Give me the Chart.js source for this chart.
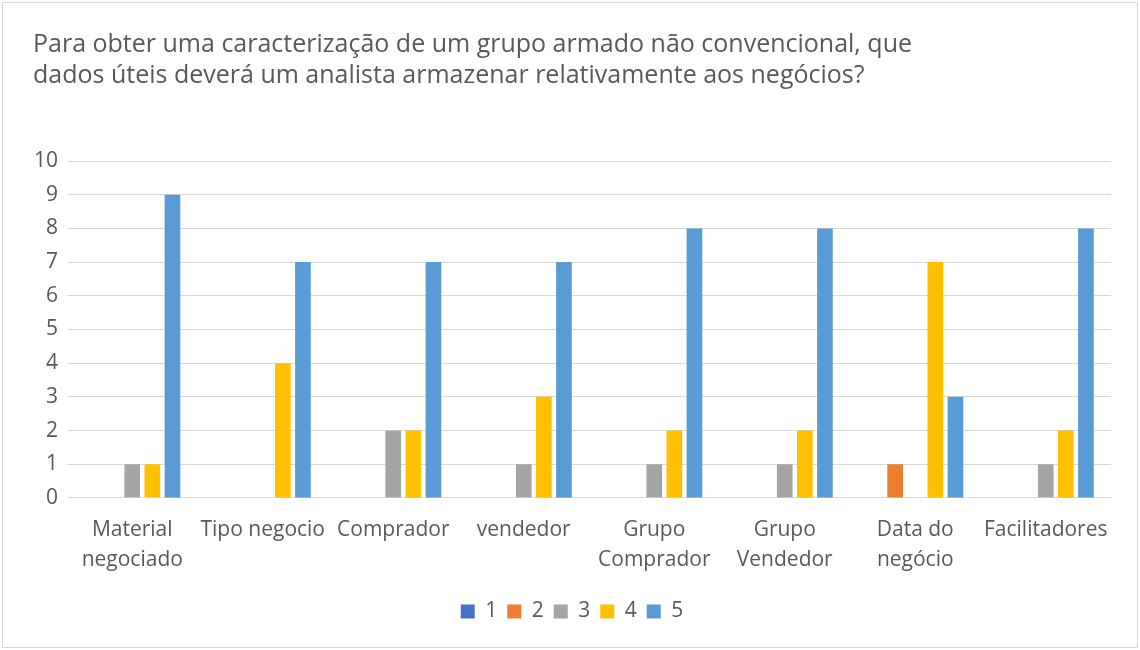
<!DOCTYPE html>
<html>
<head>
<meta charset="utf-8">
<script src="https://cdn.jsdelivr.net/npm/chart.js@4.4.0/dist/chart.umd.min.js"></script>
<style>
    html, body { margin: 0; padding: 0; background: #fff; }
    #wrap {
        position: absolute; left: 2px; top: 2px;
        width: 1134px; height: 644px;
        border: 1px solid #d9d9d9;
    }
    canvas { display: block; }
</style>
</head>
<body>
<div id="wrap"><canvas id="chart" width="1134" height="644"></canvas></div>
<script>
// 資料
const categories = [
    ['Material', 'negociado'], 'Tipo negocio', 'Comprador', 'vendedor',
    ['Grupo', 'Comprador'], ['Grupo', 'Vendedor'], ['Data do', 'negócio'], 'Facilitadores'
];
const seriesNames = ['1', '2', '3', '4', '5'];
const values1 = [0, 0, 0, 0, 0, 0, 0, 0];
const values2 = [0, 0, 0, 0, 0, 0, 1, 0];
const values3 = [1, 0, 2, 1, 1, 1, 0, 1];
const values4 = [1, 4, 2, 3, 2, 2, 7, 2];
const values5 = [9, 7, 7, 7, 8, 8, 3, 8];
const colors = ['#4472C4', '#ED7D31', '#A5A5A5', '#FFC000', '#5B9BD5'];

const titleLines = [
    'Para obter uma caracterização de um grupo armado não convencional, que',
    'dados úteis deverá um analista armazenar relativamente aos negócios?'
];

const fontFamily = '"Open Sans", "Noto Sans", sans-serif';
const textColor = '#595959';

const allValues = [values1, values2, values3, values4, values5];

const ctx = document.getElementById('chart').getContext('2d');
new Chart(ctx, {
    type: 'bar',
    data: {
        labels: categories,
        datasets: allValues.map((vals, i) => ({
            label: seriesNames[i],
            data: vals,
            backgroundColor: colors[i],
            borderWidth: 0,
            categoryPercentage: 0.77,
            barPercentage: 0.78
        }))
    },
    options: {
        responsive: false,
        animation: false,
        layout: {
            padding: { left: 30, right: 26, top: 0, bottom: 15 }
        },
        plugins: {
            title: {
                display: true,
                text: titleLines,
                align: 'start',
                color: textColor,
                font: { family: fontFamily, size: 25, weight: 'normal', lineHeight: 1.22 },
                padding: { top: 27, bottom: 70 }
            },
            legend: {
                position: 'bottom',
                labels: {
                    color: textColor,
                    font: { family: fontFamily, size: 21 },
                    boxWidth: 14,
                    boxHeight: 14,
                    padding: 10
                }
            },
            tooltip: { enabled: false }
        },
        scales: {
            x: {
                grid: { display: false, drawTicks: false },
                border: { display: true, color: '#d9d9d9', width: 1 },
                ticks: {
                    color: textColor,
                    font: { family: fontFamily, size: 21, lineHeight: 1.43 },
                    maxRotation: 0,
                    autoSkip: false,
                    padding: 17
                },
                afterFit: axis => { axis.height -= 1; }
            },
            y: {
                min: 0,
                max: 10,
                grid: { color: '#d9d9d9', lineWidth: 1, drawTicks: false },
                border: { display: false },
                ticks: {
                    stepSize: 1,
                    color: textColor,
                    font: { family: fontFamily, size: 21 },
                    padding: 9
                },
                afterFit: axis => { axis.width = 34; }
            }
        }
    }
});
</script>
</body>
</html>
